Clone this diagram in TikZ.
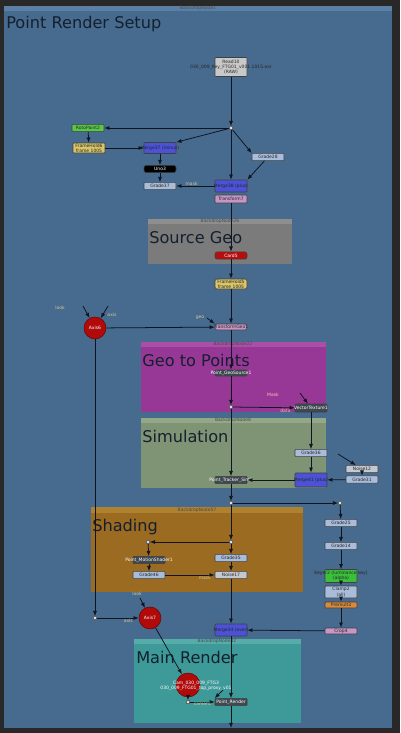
\documentclass[tikz,border=0pt]{standalone}
\usepackage{fontspec}
\setmainfont{DejaVu Sans}
\usetikzlibrary{arrows.meta, positioning}

\definecolor{bgdark}{RGB}{40,40,40}
\definecolor{bdblue}{RGB}{71,106,143}
\definecolor{bdblueh}{RGB}{92,128,165}
\definecolor{bdgray}{RGB}{123,123,123}
\definecolor{bdgrayh}{RGB}{142,142,142}
\definecolor{bdmag}{RGB}{152,56,150}
\definecolor{bdmagh}{RGB}{168,80,166}
\definecolor{bdsim}{RGB}{126,148,116}
\definecolor{bdsimh}{RGB}{146,168,134}
\definecolor{bdshade}{RGB}{156,107,34}
\definecolor{bdshadeh}{RGB}{176,130,47}
\definecolor{bdteal}{RGB}{62,154,152}
\definecolor{bdtealh}{RGB}{85,172,168}
\definecolor{titlecol}{RGB}{20,32,46}
\definecolor{wirecol}{RGB}{14,21,32}
\definecolor{readgray}{RGB}{201,201,201}
\definecolor{rotogreen}{RGB}{88,200,74}
\definecolor{holdyellow}{RGB}{217,197,106}
\definecolor{mergeblue}{RGB}{75,82,214}
\definecolor{gradeblue}{RGB}{169,188,218}
\definecolor{xformpink}{RGB}{198,150,198}
\definecolor{cardred}{RGB}{180,14,14}
\definecolor{pointdark}{RGB}{62,72,80}
\definecolor{noisegray}{RGB}{196,200,208}
\definecolor{keygreen}{RGB}{60,192,60}
\definecolor{premorange}{RGB}{216,138,58}
\definecolor{axisred}{RGB}{176,10,10}
\definecolor{lbltan}{RGB}{216,200,144}

\newcommand{\lb}[1]{\makebox[0pt]{#1}}

\begin{document}
\begin{tikzpicture}[
    x=0.25mm, y=-0.25mm,
    font=\fontsize{3.2}{3.8}\selectfont,
    nk/.style={draw=black!75, rounded corners=0.6pt, align=center, inner sep=0.3pt,
               minimum width=8mm, minimum height=1.8mm, text=black!85},
    gradenk/.style={nk, fill=gradeblue},
    mergenk/.style={nk, fill=mergeblue, minimum height=3mm},
    holdnk/.style={nk, fill=holdyellow, minimum height=2.5mm},
    xformnk/.style={nk, fill=xformpink},
    pointnk/.style={nk, fill=pointdark, text=white!85},
    axisnk/.style={circle, fill=axisred, draw=black!40!axisred, minimum size=5.5mm,
                   inner sep=0pt, text=white},
    dotnk/.style={draw=black!60, fill=gray!25, minimum size=0.8mm, inner sep=0pt},
    wire/.style={-{Latex[length=1.3mm, width=1mm]}, draw=wirecol, line width=0.55pt},
    wl/.style={text=lbltan, inner sep=0.5pt},
    bdtitle/.style={anchor=base west, inner sep=0pt, text=titlecol,
                    font=\fontsize{11.5}{11.5}\selectfont},
    bdhead/.style={text=black!70, inner sep=0pt},
]
    \useasboundingbox (0,0) rectangle (400,733);

    % --- backdrops ---
    \fill[bgdark] (0,0) rectangle (400,733);
    \fill[bdblue] (4,6) rectangle (392,728);
    \fill[bdblueh] (4,6) rectangle (392,11);
    \node[bdhead] (hdtop) at (198,8.5) {BackdropNode1};
    \node[bdtitle] (ttop) at (6,28) {Point Render Setup};

    \fill[bdgray] (148,219) rectangle (292,264);
    \fill[bdgrayh] (148,219) rectangle (292,224);
    \node[bdhead] (hdgeo) at (220,221.5) {BackdropNode26};
    \node[bdtitle] (tgeo) at (149,243) {Source Geo};

    \fill[bdmag] (141,342) rectangle (326,412);
    \fill[bdmagh] (141,342) rectangle (326,347);
    \node[bdhead] (hdpts) at (233,344.5) {BackdropNode22};
    \node[bdtitle] (tpts) at (142,366) {Geo to Points};

    \fill[bdsim] (141,418) rectangle (326,488);
    \fill[bdsimh] (141,418) rectangle (326,423);
    \node[bdhead] (hdsim) at (233,420.5) {BackdropNode8};
    \node[bdtitle] (tsim) at (142,442) {Simulation};

    \fill[bdshade] (91,507) rectangle (303,592);
    \fill[bdshadeh] (91,507) rectangle (303,513);
    \node[bdhead] (hdshd) at (197,510) {BackdropNode57};
    \node[bdtitle] (tshd) at (92,531) {Shading};

    \fill[bdteal] (134,639) rectangle (301,723);
    \fill[bdtealh] (134,639) rectangle (301,644);
    \node[bdhead] (hdmain) at (217,641.5) {BackdropNode32};
    \node[bdtitle] (tmain) at (136,663) {Main Render};

    % --- nodes ---
    \node[nk, fill=readgray, minimum height=4.75mm] (read) at (231,67)
        {\lb{Read10}\\\lb{030\_009\_Key\_FTG01\_v001.1015.exr}\\\lb{(RAW)}};
    \node[dotnk] (jct1) at (231,128) {};
    \node[nk, fill=rotogreen] (roto) at (88,128) {\lb{RotoPaint2}};
    \node[holdnk] (fh6) at (89,148) {\lb{FrameHold6}\\\lb{frame 1005}};
    \node[mergenk, minimum height=2.75mm] (m37) at (160,148) {\lb{Merge37 (minus)}};
    \node[gradenk] (g28) at (268,157) {\lb{Grade28}};
    \node[nk, fill=black, text=white, rounded corners=1.5pt] (uno) at (160,169) {\lb{Uno3}};
    \node[gradenk] (g37) at (160,186) {\lb{Grade37}};
    \node[mergenk] (m38) at (231,186) {\lb{Merge38 (plus)}};
    \node[xformnk, minimum height=2mm] (tr7) at (231,199) {\lb{Transform7}};
    \node[nk, fill=cardred, text=white, rounded corners=1.5pt] (card) at (231,255.5) {\lb{Card5}};
    \node[holdnk, rounded corners=1.5pt] (fh5) at (231,284) {\lb{FrameHold5}\\\lb{frame 1005}};
    \node[xformnk, minimum height=1.5mm, rounded corners=1.5pt] (tgeon) at (231,327) {\lb{TransformGeo1}};
    \node[axisnk] (axis6) at (95,328) {Axis6};
    \node[pointnk, minimum height=1.5mm] (pgeo) at (231,373) {\lb{Point\_GeoSource1}};
    \node[dotnk] (jct2) at (231,407) {};
    \node[pointnk, minimum height=2mm] (vtex) at (311,408) {\lb{VectorTexture1}};
    \node[gradenk] (g36) at (311,453) {\lb{Grade36}};
    \node[mergenk, minimum height=3.5mm] (m41) at (311,480) {\lb{Merge41 (plus)}};
    \node[pointnk] (ptrk) at (231,480) {\lb{Point\_Tracker\_Sim1}};
    \node[nk, fill=noisegray] (n12) at (362,469) {\lb{Noise12}};
    \node[gradenk] (g31) at (362,479.5) {\lb{Grade31}};
    \node[dotnk] (jct3) at (231,503) {};
    \node[dotnk] (jct4) at (340,503) {};
    \node[gradenk] (g25) at (341,523) {\lb{Grade25}};
    \node[gradenk] (g14) at (341,546) {\lb{Grade14}};
    \node[nk, fill=keygreen, minimum height=3.25mm] (key2) at (341,576)
        {\lb{Keyer2 (luminance key)}\\\lb{(alpha)}};
    \node[gradenk, minimum height=3mm] (clamp) at (341,592) {\lb{Clamp2}\\\lb{(all)}};
    \node[nk, fill=premorange, minimum height=1.5mm] (prem) at (341,605) {\lb{Premult3}};
    \node[xformnk, minimum height=1.5mm] (crop) at (341,631) {\lb{Crop4}};
    \node[dotnk] (jct5) at (231,542) {};
    \node[dotnk] (jct6) at (148,542) {};
    \node[pointnk] (pms) at (149,560) {\lb{Point\_MotionShader1}};
    \node[gradenk] (g46) at (149,575) {\lb{Grade46}};
    \node[gradenk] (g35) at (231,558) {\lb{Grade35}};
    \node[nk, fill=noisegray] (n17) at (231,575) {\lb{Noise17}};
    \node[mergenk] (m34) at (231,630) {\lb{Merge34 (over)}};
    \node[dotnk] (jct7) at (95,618) {};
    \node[axisnk] (axis7) at (150,618) {Axis7};
    \node[axisnk, minimum size=6mm] (cam) at (188,685) {};
    \node[text=white, align=center, inner sep=0pt] (camlbl) at (196,686)
        {Cam\_030\_009\_FTG3\\030\_009\_FTG01\_top\_proxy\_v01};
    \node[dotnk] (jct8) at (188,702) {};
    \node[pointnk] (prend) at (231,702) {\lb{Point\_Render}};
    \coordinate (outb) at (231,728);

    % --- free input stubs ---
    \coordinate (a6l) at (83,306);
    \coordinate (a6r) at (108,306);
    \coordinate (tgstub) at (207,318);
    \coordinate (vtstub) at (300,393);
    \coordinate (n12stub) at (338,454);
    \coordinate (a7stub) at (140,598);
    \coordinate (prstub) at (223,690);

    % --- wires ---
    \draw[wire] (read) -- (jct1);
    \draw[wire] (jct1) -- (roto);
    \draw[wire] (jct1) -- (m37.north east);
    \draw[wire] (jct1) -- (g28.north west);
    \draw[wire] (jct1) -- (m38);
    \draw[wire] (roto) -- (fh6);
    \draw[wire] (fh6) -- (m37);
    \draw[wire] (m37) -- (uno);
    \draw[wire] (uno) -- (g37);
    \draw[wire] (m38) -- node[wl, above=-0.5pt, pos=0.6]{mask} (g37);
    \draw[wire] (g28) -- (m38.north east);
    \draw[wire] (tr7) -- (card);
    \draw[wire] (card) -- (fh5);
    \draw[wire] (fh5) -- (tgeon);
    \draw[wire] (axis6) -- (tgeon);
    \draw[wire] (a6l) -- (axis6);
    \draw[wire] (a6r) -- (axis6);
    \draw[wire] (tgstub) -- (tgeon.north west);
    \draw[wire] (tgeon) -- (pgeo);
    \draw[wire] (pgeo) -- (jct2);
    \draw[wire] (jct2) -- node[wl, below=0pt, pos=0.85]{data} (vtex);
    \draw[wire] (vtstub) -- (vtex);
    \draw[wire] (jct2) -- (ptrk);
    \draw[wire] (vtex) -- (g36);
    \draw[wire] (g36) -- (m41);
    \draw[wire] (m41) -- (ptrk);
    \draw[wire] (g31) -- (m41);
    \draw[wire] (n12) -- (g31);
    \draw[wire] (n12stub) -- (n12);
    \draw[wire] (ptrk) -- (jct3);
    \draw[wire] (jct3) -- (jct4);
    \draw[wire] (jct4) -- (g25);
    \draw[wire] (g25) -- (g14);
    \draw[wire] (g14) -- (key2);
    \draw[wire] (key2) -- (clamp);
    \draw[wire] (clamp) -- (prem);
    \draw[wire] (prem) -- (crop);
    \draw[wire] (crop) -- (m34);
    \draw[wire] (jct3) -- (jct5);
    \draw[wire] (jct5) -- (jct6);
    \draw[wire] (jct6) -- (pms);
    \draw[wire] (pms) -- (g46);
    \draw[wire] (g46) -- node[wl, below=0pt, pos=0.8]{mask} (n17);
    \draw[wire] (jct5) -- (g35);
    \draw[wire] (g35) -- (n17);
    \draw[wire] (n17) -- (m34);
    \draw[wire] (m34) -- (prend);
    \draw[wire] (prend) -- (outb);
    \draw[wire] (axis6) -- (jct7);
    \draw[wire] (jct7) -- node[wl, below=0pt, pos=0.75]{axis} (axis7);
    \draw[wire] (a7stub) -- (axis7);
    \draw[wire] (axis7) -- (cam);
    \draw[wire] (cam) -- (jct8);
    \draw[wire] (jct8) -- node[wl, below=0pt]{camera} (prend);
    \draw[wire] (prstub) -- (prend.north west);

    % --- loose input labels ---
    \node[wl] (lk6) at (60,308) {look};
    \node[wl] (ax6) at (112,315) {axis};
    \node[wl] (lk7) at (137,594) {look};
    \node[wl, text=pink] (mskl) at (273,395) {Mask};
    \node[wl] (geolbl) at (200,318) {geo};
\end{tikzpicture}
\end{document}
